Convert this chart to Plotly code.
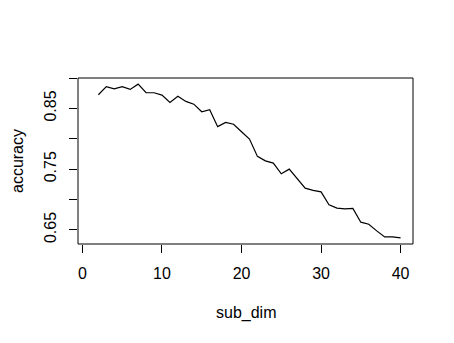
import plotly.graph_objects as go

sub_dim = list(range(2, 41))
accuracy = [0.8725, 0.886, 0.8824, 0.886, 0.8813, 0.890, 0.8758, 0.8758, 0.872, 0.860,
            0.870, 0.8616, 0.857, 0.8445, 0.8478, 0.820, 0.827, 0.824, 0.8115, 0.7995,
            0.771, 0.7637, 0.760, 0.7423, 0.750, 0.7335, 0.7187, 0.715, 0.7126, 0.6912,
            0.6857, 0.6846, 0.6852, 0.6626, 0.6593, 0.6483, 0.6384, 0.6384, 0.6368]

x_ticks = [0, 10, 20, 30, 40]
y_ticks = [0.65, 0.70, 0.75, 0.80, 0.85, 0.90]
y_ticktext = ["0.65", "", "0.75", "", "0.85", ""]

ymin, ymax = min(accuracy), max(accuracy)
yr = ymax - ymin
xmin, xmax = 1, 40
xr = xmax - xmin

font = dict(family="Liberation Sans, Arial, sans-serif", size=16, color="black")

fig = go.Figure()
fig.add_trace(go.Scatter(x=sub_dim, y=accuracy, mode="lines",
                         line=dict(color="black", width=1.2), showlegend=False))

fig.update_layout(
    width=454, height=343,
    margin=dict(l=78, r=41, t=78, b=99),
    paper_bgcolor="white", plot_bgcolor="white",
    font=font,
    xaxis=dict(range=[xmin - 0.04 * xr, xmax + 0.04 * xr], tickvals=x_ticks,
               ticks="outside", ticklen=8, tickcolor="black", tickwidth=1,
               showline=False, showgrid=False, zeroline=False,
               ticklabelstandoff=7, tickfont=font),
    yaxis=dict(range=[ymin - 0.04 * yr, ymax + 0.04 * yr], tickvals=y_ticks,
               ticktext=y_ticktext, tickangle=-90,
               ticks="outside", ticklen=8, tickcolor="black", tickwidth=1,
               showline=False, showgrid=False, zeroline=False,
               ticklabelstandoff=7, tickfont=font),
    shapes=[dict(type="rect", xref="paper", yref="paper", x0=0, y0=0, x1=1, y1=1,
                 line=dict(color="black", width=1))],
    annotations=[
        dict(text="sub_dim", xref="paper", yref="paper", x=0.5, y=0,
             yshift=-69, showarrow=False, font=font, xanchor="center", yanchor="middle"),
        dict(text="accuracy", xref="paper", yref="paper", x=0, y=0.5,
             xshift=-61, showarrow=False, font=font, textangle=-90,
             xanchor="center", yanchor="middle"),
    ],
)

fig.write_html("out.html")
